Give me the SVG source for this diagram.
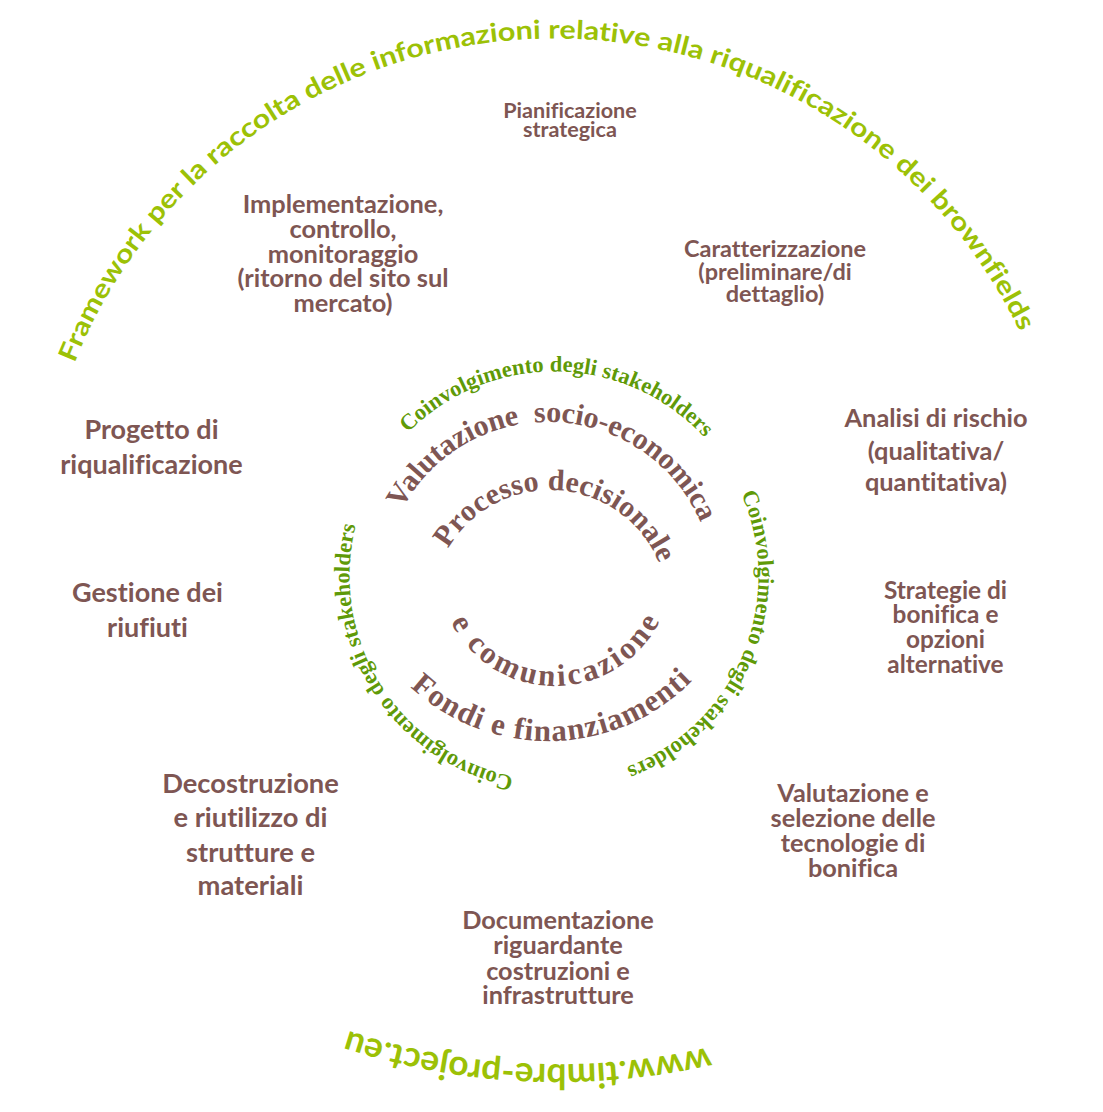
<svg xmlns="http://www.w3.org/2000/svg" xmlns:xlink="http://www.w3.org/1999/xlink" width="1103" height="1112" viewBox="0 0 1103 1112">
<style>
text{font-variant-ligatures:none;font-feature-settings:"liga" 0,"clig" 0}
.lbl{font-family:Lato,"Liberation Sans",sans-serif;font-weight:700;fill:#7e5653;text-anchor:middle}
.arcg{font-family:Lato,"Liberation Sans",sans-serif;font-weight:700;fill:#9cc106}
.ser{font-family:"Liberation Serif","Times New Roman",serif;font-weight:700}
.br{fill:#7e5653}
.gr{fill:#5f9a08}
</style>
<defs>
<path id="pTop" d="M 38.3 527.1 A 516.5 516.5 0 0 1 1066.8 492.9"/>
<path id="pWww" d="M 1227.1 478.3 A 675 675 0 0 1 -116.4 417.3"/>
<path id="pRing" d="M 554 780.5 A 204.5 204.5 0 1 1 554 371.5 A 204.5 204.5 0 1 1 554 780.5"/>
<path id="pVal" d="M 383.5 566 A 166 166 0 0 1 713.9 581"/>
<path id="pProc" d="M 433.5 589.5 A 118 118 0 0 1 668 605.9"/>
<path id="pCom" d="M 438.5 579.6 A 117 117 0 0 0 671.6 578.8"/>
<path id="pFon" d="M 347.2 561 A 202 202 0 0 0 749.6 552.2"/>
</defs>

<g id="title-arc">
<text class="arcg" font-size="26"><textPath href="#pTop" xlink:href="#pTop" startOffset="50%" text-anchor="middle" textLength="1195" lengthAdjust="spacingAndGlyphs">Framework per la raccolta delle informazioni relative alla riqualificazione dei brownfields</textPath></text>
</g>
<g id="url-arc">
<text class="arcg" font-size="35"><textPath href="#pWww" xlink:href="#pWww" startOffset="50%" text-anchor="middle" textLength="366" lengthAdjust="spacingAndGlyphs">www.timbre-project.eu</textPath></text>
</g>

<g id="stakeholders-ring">
<text class="ser gr" font-size="22.5"><textPath href="#pRing" xlink:href="#pRing" startOffset="50.25%" text-anchor="middle" textLength="332" lengthAdjust="spacing">Coinvolgimento degli stakeholders</textPath></text>
<text class="ser gr" font-size="22.5"><textPath href="#pRing" xlink:href="#pRing" startOffset="81.33%" text-anchor="middle" textLength="332" lengthAdjust="spacing">Coinvolgimento degli stakeholders</textPath></text>
<text class="ser gr" font-size="22.5"><textPath href="#pRing" xlink:href="#pRing" startOffset="16.07%" text-anchor="middle" textLength="332" lengthAdjust="spacing">Coinvolgimento degli stakeholders</textPath></text>
</g>

<g id="valutazione">
<text class="ser br" font-size="30" xml:space="preserve"><textPath href="#pVal" xlink:href="#pVal" startOffset="50%" text-anchor="middle" textLength="372" lengthAdjust="spacing">Valutazione  socio-economica</textPath></text>
</g>
<g id="processo">
<text class="ser br" font-size="30"><textPath href="#pProc" xlink:href="#pProc" startOffset="50%" text-anchor="middle" textLength="262" lengthAdjust="spacing">Processo decisionale</textPath></text>
</g>
<g id="comunicazione">
<text class="ser br" font-size="31"><textPath href="#pCom" xlink:href="#pCom" startOffset="50%" text-anchor="middle" textLength="258" lengthAdjust="spacing">e comunicazione</textPath></text>
</g>
<g id="fondi">
<text class="ser br" font-size="31"><textPath href="#pFon" xlink:href="#pFon" startOffset="50%" text-anchor="middle" textLength="312" lengthAdjust="spacing">Fondi e finanziamenti</textPath></text>
</g>

<g id="pianificazione">
<text class="lbl" font-size="21.6"><tspan x="570" y="118">Pianificazione</tspan><tspan x="570" y="136.5">strategica</tspan></text>
</g>
<g id="caratterizzazione">
<text class="lbl" font-size="23.5"><tspan x="775" y="257">Caratterizzazione</tspan><tspan x="775" y="280">(preliminare/di</tspan><tspan x="775" y="302">dettaglio)</tspan></text>
</g>
<g id="analisi">
<text class="lbl" font-size="25.4"><tspan x="936" y="427">Analisi di rischio</tspan><tspan x="936" y="460">(qualitativa/</tspan><tspan x="936" y="491">quantitativa)</tspan></text>
</g>
<g id="strategie">
<text class="lbl" font-size="24.4"><tspan x="945.5" y="599">Strategie di</tspan><tspan x="945.5" y="623">bonifica e</tspan><tspan x="945.5" y="647.5">opzioni</tspan><tspan x="945.5" y="672.5">alternative</tspan></text>
</g>
<g id="valutazione-tecnologie">
<text class="lbl" font-size="25.3"><tspan x="853" y="802">Valutazione e</tspan><tspan x="853" y="827">selezione delle</tspan><tspan x="853" y="852">tecnologie di</tspan><tspan x="853" y="877">bonifica</tspan></text>
</g>
<g id="documentazione">
<text class="lbl" font-size="25.3"><tspan x="558" y="929">Documentazione</tspan><tspan x="558" y="954">riguardante</tspan><tspan x="558" y="980">costruzioni e</tspan><tspan x="558" y="1004">infrastrutture</tspan></text>
</g>
<g id="decostruzione">
<text class="lbl" font-size="27.3"><tspan x="250.5" y="793">Decostruzione</tspan><tspan x="250.5" y="827">e riutilizzo di</tspan><tspan x="250.5" y="862">strutture e</tspan><tspan x="250.5" y="895">materiali</tspan></text>
</g>
<g id="gestione">
<text class="lbl" font-size="27"><tspan x="147.5" y="602">Gestione dei</tspan><tspan x="147.5" y="637">riufiuti</tspan></text>
</g>
<g id="progetto">
<text class="lbl" font-size="27"><tspan x="151.5" y="439">Progetto di</tspan><tspan x="151.5" y="474">riqualificazione</tspan></text>
</g>
<g id="implementazione">
<text class="lbl" font-size="25.4"><tspan x="343" y="213">Implementazione,</tspan><tspan x="343" y="238">controllo,</tspan><tspan x="343" y="263">monitoraggio</tspan><tspan x="343" y="287">(ritorno del sito sul</tspan><tspan x="343" y="312">mercato)</tspan></text>
</g>
<g id="connectors"/>
</svg>
